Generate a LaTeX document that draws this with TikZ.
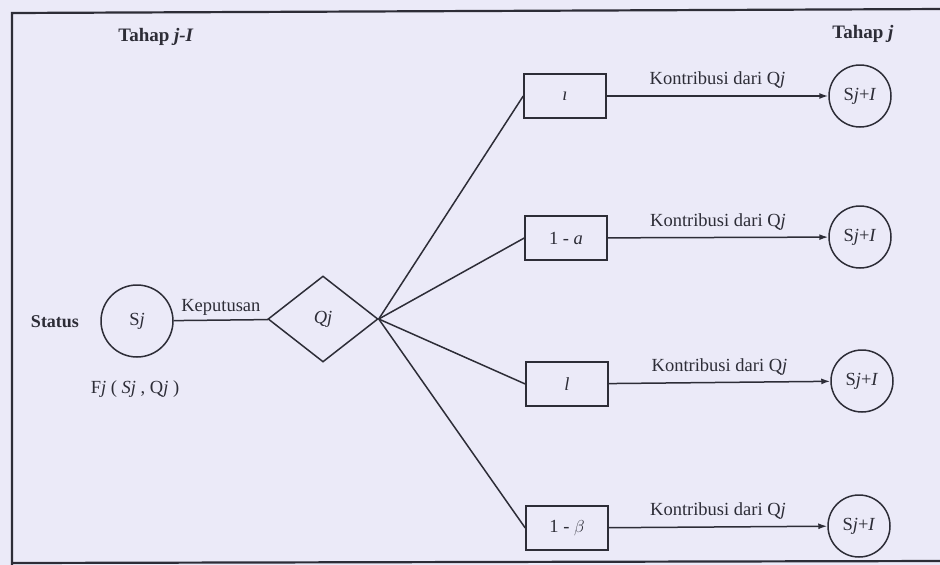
\documentclass[tikz,border=0pt]{standalone}
\usepackage{fontspec}
\setmainfont{Liberation Serif}
\usetikzlibrary{shapes.geometric,arrows.meta}
\definecolor{paper}{RGB}{235,234,248}
\definecolor{ink}{RGB}{45,45,55}

\tikzset{
  lbl/.style={font=\fontsize{18.5}{21}\selectfont, text=ink},
  hd/.style={font=\fontsize{19}{22}\selectfont\bfseries, text=ink},
  state/.style={draw=ink, circle, line width=1.5pt, inner sep=0pt, font=\fontsize{18.5}{21}\selectfont, text=ink},
  decide/.style={draw=ink, diamond, line width=1.5pt, inner sep=0pt, font=\fontsize{18.5}{21}\selectfont, text=ink},
  probbox/.style={draw=ink, rectangle, line width=1.5pt, minimum width=82pt, minimum height=44pt, inner sep=0pt, font=\fontsize{18.5}{21}\selectfont, text=ink},
  wire/.style={draw=ink, line width=1.5pt},
  flow/.style={draw=ink, line width=1.5pt, -{Latex[length=9pt,width=6pt]}},
}

\begin{document}
\begin{tikzpicture}[x=1pt,y=-1pt]
  % paper and frame
  \fill[paper] (0,0) rectangle (940,565);
  \useasboundingbox (0,0) rectangle (940,565);
  \draw[ink, line width=2.2pt] (945,9) -- (12,13) -- (12,570);
  \draw[ink, line width=2.2pt] (12,563) -- (945,561);

  % stage headings
  \node[hd] (hprev) at (156,37) {Tahap \textit{j-I}};
  \node[hd] (hcur)  at (863,34) {Tahap \textit{j}};

  % stage j-1: state and decision
  \node[font=\fontsize{18}{21}\selectfont\bfseries, text=ink] (status) at (55,322) {Status};
  \node[state, minimum size=72pt] (sj) at (137,321) {S\textit{j}};
  \node[lbl] (ret) at (135,389) {F\textit{j} ( \textit{Sj} , Q\textit{j} )};
  \node[decide, minimum width=110pt, minimum height=86pt] (qj) at (323,319) {\textit{Qj}};
  \draw[wire] (sj) -- (qj) node[lbl, midway, above=1pt] (kep) {Keputusan};

  % outcome probabilities
  \node[probbox] (b1) at (565,96)  {\textit{ı}};
  \node[probbox] (b2) at (566,238) {1 - \textit{a}};
  \node[probbox] (b3) at (567,384) {\textit{l}};
  \node[probbox] (b4) at (567,528) {1 - $\beta$};

  % stage j: next states
  \node[state, minimum size=62pt] (c1) at (860,96)  {S\textit{j}+\textit{I}};
  \node[state, minimum size=62pt] (c2) at (860,237) {S\textit{j}+\textit{I}};
  \node[state, minimum size=62pt] (c3) at (862,381) {S\textit{j}+\textit{I}};
  \node[state, minimum size=62pt] (c4) at (859,526) {S\textit{j}+\textit{I}};

  % fan from the decision to each outcome
  \foreach \b in {b1,b2,b3,b4}
    \draw[wire] (qj.east) -- (\b.west);

  % contributions to the next stage
  \draw[flow] (b1) -- (c1) node[lbl, midway, above=3pt] (k1) {Kontribusi dari Q\textit{j}};
  \draw[flow] (b2) -- (c2) node[lbl, midway, above=3pt] (k2) {Kontribusi dari Q\textit{j}};
  \draw[flow] (b3) -- (c3) node[lbl, midway, above=3pt] (k3) {Kontribusi dari Q\textit{j}};
  \draw[flow] (b4) -- (c4) node[lbl, midway, above=3pt] (k4) {Kontribusi dari Q\textit{j}};
\end{tikzpicture}
\end{document}
